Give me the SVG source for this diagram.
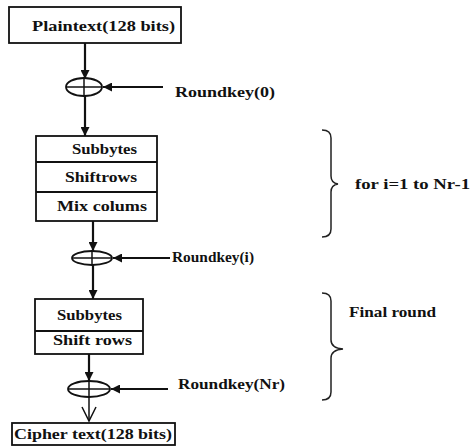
<svg xmlns="http://www.w3.org/2000/svg" width="472" height="448" viewBox="0 0 472 448">
<defs>
<style>
.box{fill:#fff;stroke:#111;stroke-width:1.8}
.ln{stroke:#111;stroke-width:2.2;fill:none}
.xor{fill:#fff;stroke:#111;stroke-width:1.8}
.t{font-family:"Liberation Serif",serif;font-weight:bold;font-size:14px;fill:#111}
.br{stroke:#222;stroke-width:1.5;fill:none}
</style>
<marker id="a" viewBox="0 0 10 10" refX="10" refY="5" markerWidth="9" markerHeight="9" orient="auto" markerUnits="userSpaceOnUse">
<path d="M0,0 L10,5 L0,10 z" fill="#111"/>
</marker>
</defs>
<g id="connectors">
<line class="ln" x1="85" y1="43" x2="85" y2="79" marker-end="url(#a)"/>
<line class="ln" x1="85" y1="96" x2="85" y2="136" marker-end="url(#a)"/>
<line class="ln" x1="163" y1="87" x2="103" y2="87" marker-end="url(#a)"/>
<line class="ln" x1="93" y1="221" x2="93" y2="251" marker-end="url(#a)"/>
<line class="ln" x1="93" y1="265" x2="93" y2="299" marker-end="url(#a)"/>
<line class="ln" x1="170" y1="258" x2="113" y2="258" marker-end="url(#a)"/>
<line class="ln" x1="89" y1="354" x2="89" y2="381" marker-end="url(#a)"/>
<line class="ln" x1="168" y1="389" x2="111" y2="389" marker-end="url(#a)"/>
<line class="ln" x1="89" y1="397" x2="89" y2="421" style="stroke-width:1.5"/>
<polyline class="ln" points="82,407 89,421 96,407" style="stroke-width:1.5"/>
</g>
<g id="plaintext">
<rect class="box" x="9" y="7" width="172" height="36"/>
<text class="t" x="32" y="31" style="font-size:15px" textLength="143" lengthAdjust="spacingAndGlyphs">Plaintext(128 bits)</text>
</g>
<g id="xor0">
<ellipse class="xor" cx="84" cy="87" rx="18" ry="9"/>
<line class="ln" x1="66" y1="87" x2="102" y2="87" style="stroke-width:1.5"/>
<line class="ln" x1="84" y1="78" x2="84" y2="96" style="stroke-width:1.5"/>
<text class="t" x="175" y="97" textLength="100" lengthAdjust="spacingAndGlyphs">Roundkey(0)</text>
</g>
<g id="round">
<rect class="box" x="36" y="136" width="121" height="85"/>
<line class="box" x1="36" y1="162" x2="157" y2="162"/>
<line class="box" x1="36" y1="192" x2="157" y2="192"/>
<text class="t" x="72" y="154" textLength="65" lengthAdjust="spacingAndGlyphs">Subbytes</text>
<text class="t" x="65" y="182" textLength="72" lengthAdjust="spacingAndGlyphs">Shiftrows</text>
<text class="t" x="57" y="211" textLength="90" lengthAdjust="spacingAndGlyphs">Mix colums</text>
</g>
<g id="brace1">
<path class="br" d="M322,130 Q331,130 331,138 L331,176 Q331,183 338,184 Q331,185 331,192 L331,229 Q331,237 322,237"/>
<text class="t" x="355" y="189" textLength="115" lengthAdjust="spacingAndGlyphs">for i=1 to Nr-1</text>
</g>
<g id="xor1">
<ellipse class="xor" cx="92" cy="258" rx="20" ry="7"/>
<line class="ln" x1="72" y1="258" x2="112" y2="258" style="stroke-width:1.5"/>
<line class="ln" x1="92" y1="251" x2="92" y2="265" style="stroke-width:1.5"/>
<text class="t" x="172" y="262" textLength="82" lengthAdjust="spacingAndGlyphs">Roundkey(i)</text>
</g>
<g id="final">
<rect class="box" x="35" y="299" width="108" height="55"/>
<line class="box" x1="35" y1="331" x2="143" y2="331"/>
<text class="t" x="57" y="320" textLength="65" lengthAdjust="spacingAndGlyphs">Subbytes</text>
<text class="t" x="53" y="345" textLength="79" lengthAdjust="spacingAndGlyphs">Shift rows</text>
</g>
<g id="brace2">
<path class="br" d="M322,293 Q331,293 331,301 L331,340 Q331,348 343,349 Q331,350 331,358 L331,392 Q331,400 322,400"/>
<text class="t" x="349" y="317" textLength="87" lengthAdjust="spacingAndGlyphs">Final round</text>
</g>
<g id="xor2">
<ellipse class="xor" cx="89" cy="389" rx="21" ry="8"/>
<line class="ln" x1="68" y1="389" x2="110" y2="389" style="stroke-width:1.5"/>
<line class="ln" x1="89" y1="381" x2="89" y2="397" style="stroke-width:1.5"/>
<text class="t" x="178" y="389" textLength="107" lengthAdjust="spacingAndGlyphs">Roundkey(Nr)</text>
</g>
<g id="cipher">
<rect class="box" x="12" y="423" width="163" height="22"/>
<text class="t" x="14" y="439" textLength="158" lengthAdjust="spacingAndGlyphs">Cipher text(128 bits)</text>
</g>
</svg>
